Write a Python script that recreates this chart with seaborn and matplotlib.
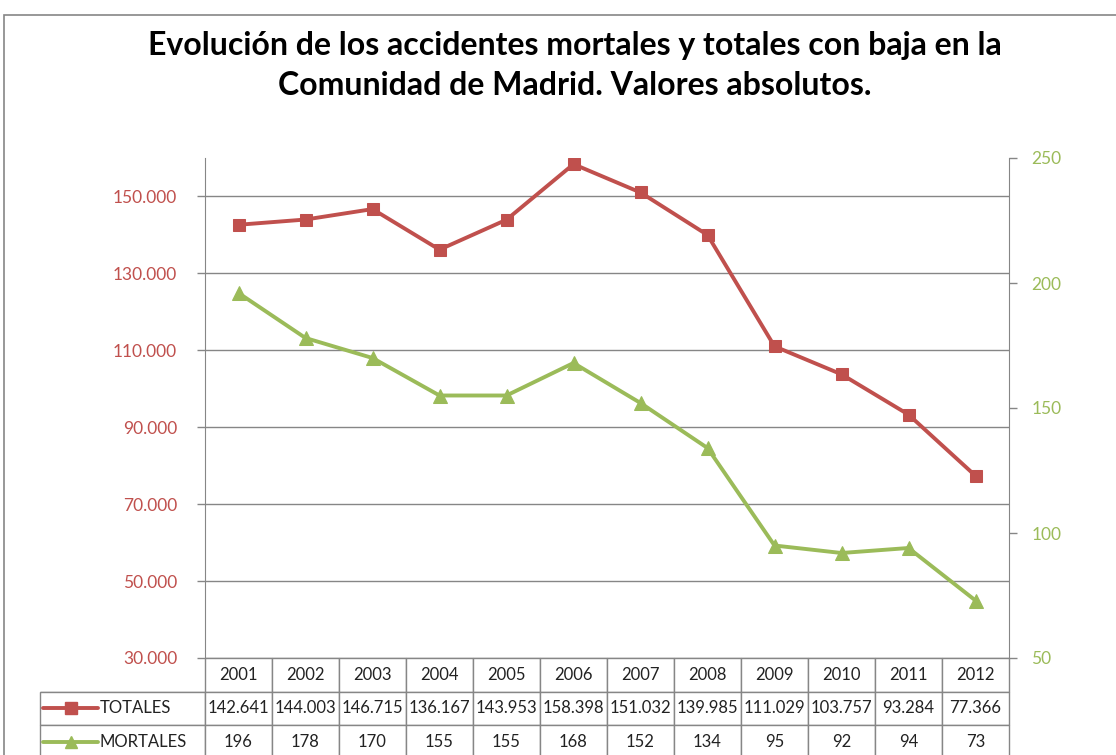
import numpy as np
import pandas as pd
import matplotlib
matplotlib.use("Agg")
import matplotlib.pyplot as plt
from matplotlib.patches import Rectangle
from matplotlib.ticker import FuncFormatter
import seaborn as sns

# Data
years = [2001, 2002, 2003, 2004, 2005, 2006, 2007, 2008, 2009, 2010, 2011, 2012]
totales = [142641, 144003, 146715, 136167, 143953, 158398, 151032, 139985, 111029, 103757, 93284, 77366]
mortales = [196, 178, 170, 155, 155, 168, 152, 134, 95, 92, 94, 73]
series_names = ["TOTALES", "MORTALES"]

RED = "#C0504D"
GREEN = "#9BBB59"
GRAY = "#868686"

sns.set_style("white")
plt.rcParams["font.family"] = ["Lato", "DejaVu Sans"]

df = pd.DataFrame({"year": years, "TOTALES": totales, "MORTALES": mortales})

W, H = 1116, 755
fig = plt.figure(figsize=(W / 100, H / 100), dpi=100)
ax = fig.add_axes([205 / W, 1 - 658 / H, 804 / W, 500 / H])
ax2 = ax.twinx()

sns.lineplot(data=df, x="year", y="TOTALES", ax=ax, color=RED, linewidth=2.8,
             marker="s", markersize=9, markeredgecolor=RED, zorder=5)
sns.lineplot(data=df, x="year", y="MORTALES", ax=ax2, color=GREEN, linewidth=2.8,
             marker="^", markersize=10, markeredgecolor=GREEN, zorder=5)

ax.set_xlim(years[0] - 0.5, years[-1] + 0.5)
ax.set_ylim(30000, 160000)
ax.set_yticks(np.arange(30000, 150001, 20000))
ax.yaxis.set_major_formatter(FuncFormatter(lambda v, p: f"{v:,.0f}".replace(",", ".")))
ax2.set_ylim(50, 250)
ax2.set_yticks(np.arange(50, 251, 50))

ax.set_xticks([])
ax2.set_xticks([])
ax.set_xlabel("")
ax.set_ylabel("")
ax2.set_ylabel("")
ax.grid(axis="y", color=GRAY, linewidth=1)
ax.set_axisbelow(True)

for a in (ax, ax2):
    for s in ["top", "bottom"]:
        a.spines[s].set_visible(False)
    a.spines["left"].set_color(GRAY)
    a.spines["right"].set_color(GRAY)
ax.spines["right"].set_visible(False)
ax2.spines["left"].set_visible(False)

ax.tick_params(axis="y", colors=GRAY, labelcolor=RED, labelsize=12.5, length=6, width=1, pad=14)
ax2.tick_params(axis="y", colors=GRAY, labelcolor=GREEN, labelsize=12.5, length=6, width=1, pad=10)

# Data table under the chart
fmt = lambda v: f"{v:,.0f}".replace(",", ".")
cell_text = [[""] + [str(y) for y in years],
             [series_names[0]] + [fmt(v) for v in totales],
             [series_names[1]] + [str(v) for v in mortales]]
lab_w = 165 / 804
row_h = 33.5 / 500
tbl = ax.table(cellText=cell_text, cellLoc="center",
               colWidths=[165] + [67] * len(years),
               bbox=[-lab_w, -3 * row_h, 1 + lab_w, 3 * row_h])
tbl.auto_set_font_size(False)
tbl.set_fontsize(12)
for (r, c), cell in tbl.get_celld().items():
    cell.set_edgecolor(GRAY)
    cell.set_linewidth(1)
    cell.get_text().set_color("#222222")
    if c == 0:
        cell.get_text().set_ha("left")
        cell.PAD = 0.36
        cell._loc = "left"
        if r == 0:
            cell.visible_edges = "B"

# Legend keys inside the label cells
for i, (col, mk, ms) in enumerate([(RED, "s", 8), (GREEN, "^", 9)]):
    yk = -(1.5 + i) * row_h
    ax.plot([-lab_w + 3 / 804, -lab_w + 31 / 804, -lab_w + 58 / 804], [yk] * 3,
            transform=ax.transAxes, clip_on=False, color=col, linewidth=2.8,
            marker=mk, markersize=ms, markevery=[1], markeredgecolor=col)

fig.suptitle("Evolución de los accidentes mortales y totales con baja en la\n"
             "Comunidad de Madrid. Valores absolutos.",
             x=575 / W, y=1 - 31 / H, va="top", fontsize=23, fontweight="bold",
             color="black", family=["Lato", "DejaVu Sans"], linespacing=1.45)

# Chart area border
fig.add_artist(Rectangle((4 / W, -0.1), 1.2, 1.1 - 15 / H, transform=fig.transFigure,
                         fill=False, edgecolor=GRAY, linewidth=1.2))

fig.savefig("out.png", dpi=100)
